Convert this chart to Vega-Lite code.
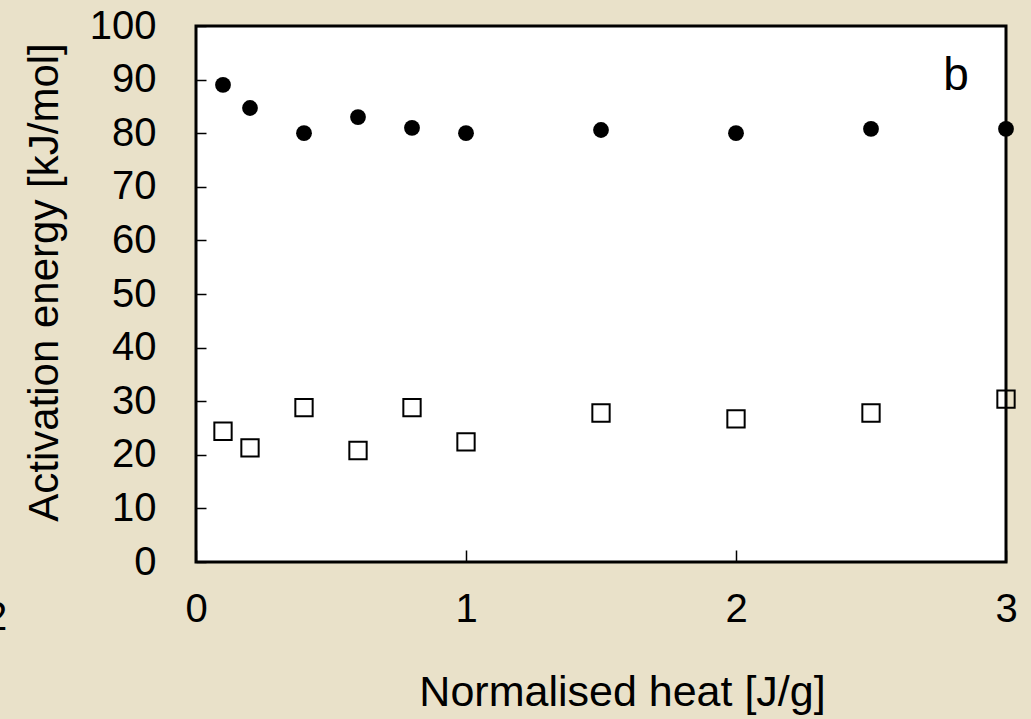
{
  "$schema": "https://vega.github.io/schema/vega-lite/v6.json",
  "width": 810,
  "height": 536,
  "autosize": "none",
  "padding": {"left": 196, "top": 26, "right": 25, "bottom": 157},
  "background": "#e9e1c9",
  "config": {
    "view": {"stroke": "black", "strokeWidth": 3, "fill": "white"},
    "font": "Liberation Sans",
    "axis": {
      "grid": false,
      "domain": false,
      "labelColor": "black",
      "titleColor": "black",
      "tickColor": "black",
      "labelFont": "Liberation Sans",
      "titleFont": "Liberation Sans",
      "labelFontSize": 40,
      "titleFontSize": 43,
      "titleFontWeight": "normal",
      "tickWidth": 1.5,
      "labelFlush": false,
      "labelOverlap": false
    }
  },
  "data": {
    "values": [
      {"heat": 0.1, "energy": 89.0, "series": "high"},
      {"heat": 0.2, "energy": 84.7, "series": "high"},
      {"heat": 0.4, "energy": 80.0, "series": "high"},
      {"heat": 0.6, "energy": 83.0, "series": "high"},
      {"heat": 0.8, "energy": 81.0, "series": "high"},
      {"heat": 1.0, "energy": 80.0, "series": "high"},
      {"heat": 1.5, "energy": 80.6, "series": "high"},
      {"heat": 2.0, "energy": 80.0, "series": "high"},
      {"heat": 2.5, "energy": 80.8, "series": "high"},
      {"heat": 3.0, "energy": 80.8, "series": "high"},
      {"heat": 0.1, "energy": 24.4, "series": "low"},
      {"heat": 0.2, "energy": 21.3, "series": "low"},
      {"heat": 0.4, "energy": 28.8, "series": "low"},
      {"heat": 0.6, "energy": 20.8, "series": "low"},
      {"heat": 0.8, "energy": 28.8, "series": "low"},
      {"heat": 1.0, "energy": 22.4, "series": "low"},
      {"heat": 1.5, "energy": 27.8, "series": "low"},
      {"heat": 2.0, "energy": 26.7, "series": "low"},
      {"heat": 2.5, "energy": 27.8, "series": "low"},
      {"heat": 3.0, "energy": 30.4, "series": "low"}
    ]
  },
  "encoding": {
    "x": {
      "field": "heat",
      "type": "quantitative",
      "scale": {"domain": [0, 3], "nice": false, "zero": false},
      "axis": {
        "title": "Normalised heat [J/g]",
        "values": [0, 1, 2, 3],
        "tickSize": -12,
        "labelPadding": 39,
        "titlePadding": 42,
        "titleX": 426
      }
    },
    "y": {
      "field": "energy",
      "type": "quantitative",
      "scale": {"domain": [0, 100], "nice": false},
      "axis": {
        "title": "Activation energy [kJ/mol]",
        "values": [0, 10, 20, 30, 40, 50, 60, 70, 80, 90, 100],
        "tickSize": -10,
        "labelPadding": 50,
        "titlePadding": 23,
        "titleFontSize": 42,
        "titleY": 256
      }
    }
  },
  "layer": [
    {
      "transform": [{"filter": "datum.series === 'high'"}],
      "mark": {"type": "point", "shape": "circle", "filled": true, "color": "black", "size": 250, "opacity": 1}
    },
    {
      "transform": [{"filter": "datum.series === 'low'"}],
      "mark": {"type": "point", "shape": "square", "filled": false, "stroke": "black", "strokeWidth": 2, "size": 300, "opacity": 1}
    },
    {
      "data": {"values": [{"heat": 2.815, "energy": 88.1, "label": "b"}]},
      "mark": {"type": "text", "fontSize": 46, "color": "black", "baseline": "alphabetic", "align": "center"},
      "encoding": {"text": {"field": "label"}}
    },
    {
      "data": {"values": [{"heat": -0.74, "energy": -10.5, "label": "2"}]},
      "mark": {"type": "text", "fontSize": 40, "color": "black", "baseline": "middle", "align": "center"},
      "encoding": {"text": {"field": "label"}}
    }
  ]
}
